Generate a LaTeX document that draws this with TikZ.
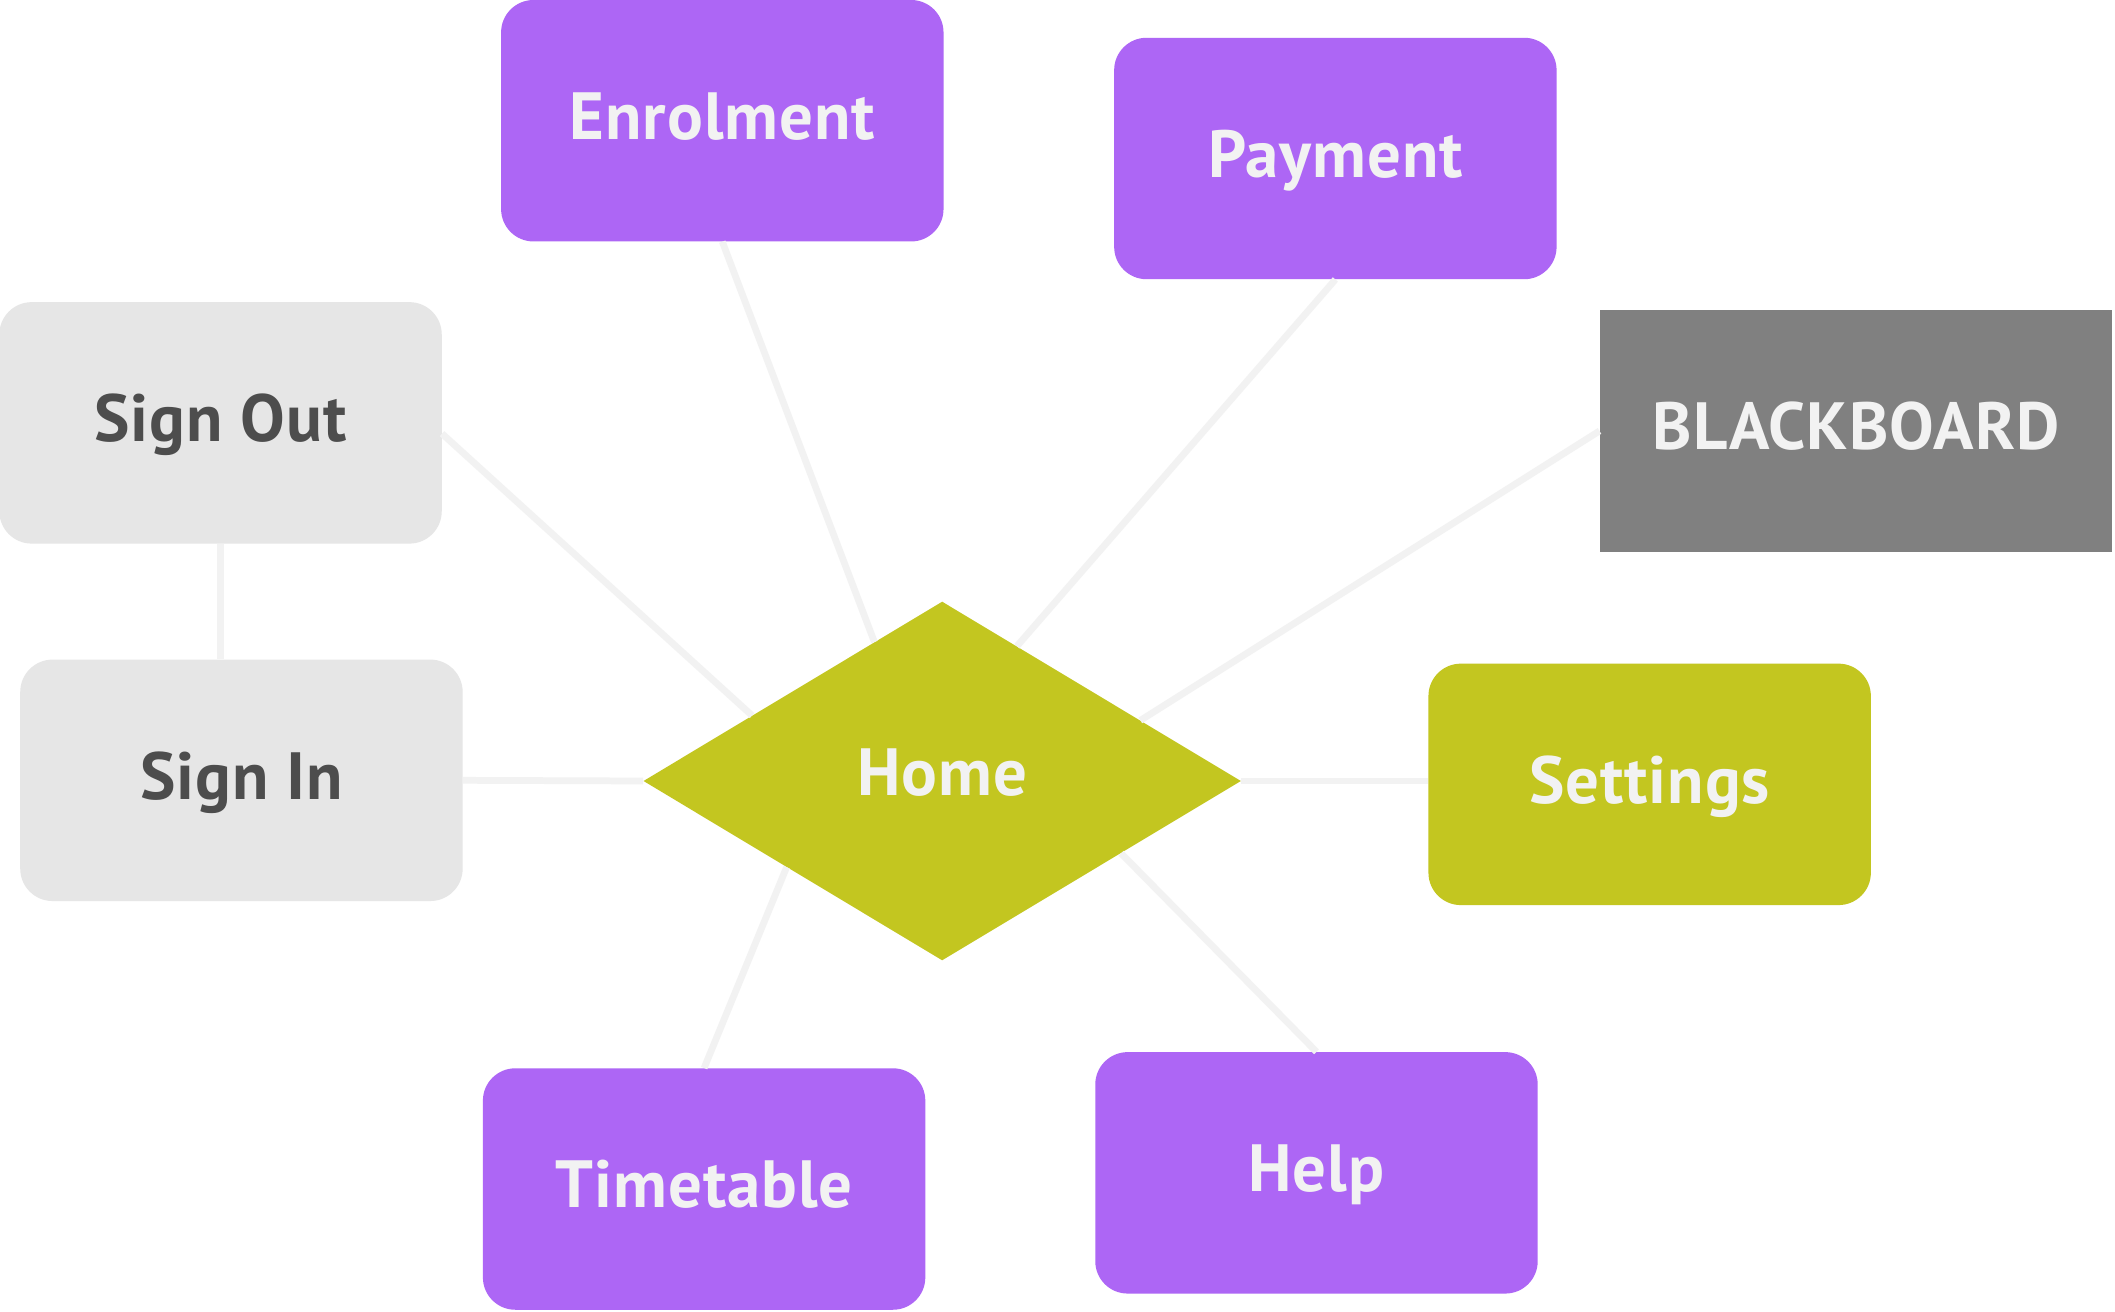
\documentclass[tikz,border=0pt]{standalone}
\usepackage{fontspec}
\newfontfamily\lblfont{PT Sans}[LetterSpace=1.5]
\usetikzlibrary{shapes.geometric}
\definecolor{purp}{HTML}{AD66F5}
\definecolor{olive}{HTML}{C3C620}
\definecolor{lgray}{HTML}{E6E6E6}
\definecolor{dtext}{HTML}{4D4D4D}
\definecolor{bbgray}{HTML}{808080}
\definecolor{linegray}{HTML}{F2F2F2}
\definecolor{wtext}{HTML}{F2F2F2}
\begin{document}
\begin{tikzpicture}[x=1pt,y=-1pt,
  lbl/.style={font=\lblfont\bfseries\fontsize{49.5}{58}\selectfont},
  box/.style={lbl, rectangle, rounded corners=24pt, minimum width=328pt,
    minimum height=179pt, inner sep=0pt, text height=34pt, text depth=6pt},
  purplebox/.style={box, fill=purp, text=wtext},
  graybox/.style={box, fill=lgray, text=dtext},
  olivebox/.style={box, fill=olive, text=wtext},
  bbbox/.style={box, rounded corners=0pt, minimum width=380pt, fill=bbgray, text=wtext},
  diam/.style={lbl, diamond, aspect=1.665, minimum width=443pt, minimum height=266pt,
    inner sep=0pt, fill=olive, text=wtext, text height=34pt, text depth=12pt},
  link/.style={draw=linegray, line width=5pt}]
\useasboundingbox (0,0) rectangle (1568,972);
\fill[white] (0,0) rectangle (1568,972);
\node[purplebox] (enrol) at (535.5,89.5) {Enrolment};
\node[purplebox] (pay) at (990,117.5) {Payment};
\node[graybox] (signout) at (163.5,313.5) {Sign Out};
\node[bbbox] (bb) at (1376,319.5) {BLACKBOARD};
\node[graybox] (signin) at (179,578.5) {Sign In};
\node[diam] (home) at (698.5,579) {Home};
\node[olivebox] (settings) at (1223,581.5) {Settings};
\node[purplebox] (tt) at (522,881.5) {Timetable};
\node[purplebox] (help) at (976,869.5) {Help};
\draw[link] (enrol.south) -- (home.116);
\draw[link] (pay.south) -- (home.61);
\draw[link] (bb.west) -- (home.17);
\draw[link] ([yshift=-8pt]signout.east) -- (home.161);
\draw[link] (signout.south) -- (signout.south |- signin.north);
\draw[link] (signin.east) -- (home.west);
\draw[link] (home.east) -- (home.east -| settings.west);
\draw[link] (home.-22) -- (help.north);
\draw[link] (home.-151) -- (tt.north);
\end{tikzpicture}
\end{document}
